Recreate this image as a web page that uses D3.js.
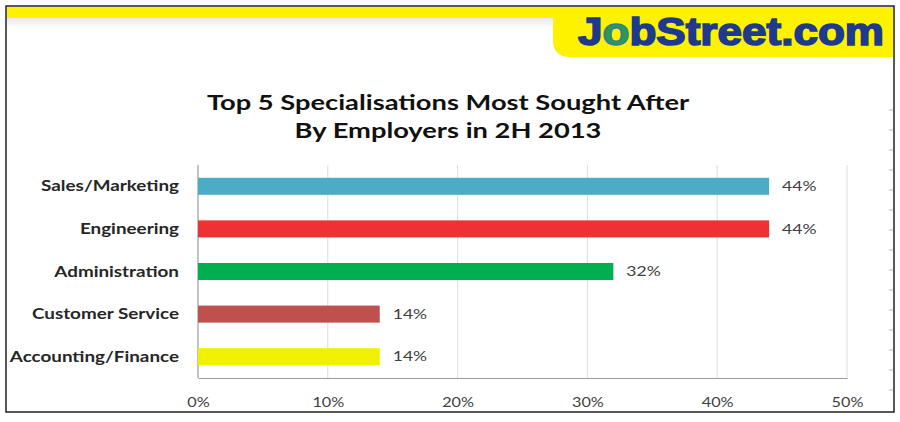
<!DOCTYPE html>
<html>
<head>
<meta charset="utf-8">
<script src="https://cdn.jsdelivr.net/npm/d3@7"></script>
<style>
  body { margin: 0; background: #fff; }
  svg { display: block; }
</style>
</head>
<body>
<svg id="chart" width="900" height="422"></svg>
<script>
// data
const categories = ['Sales/Marketing', 'Engineering', 'Administration', 'Customer Service', 'Accounting/Finance']
const values = [44, 44, 32, 14, 14]
const barColours = ['#4bacc6', '#f03131', '#00b050', '#c0504d', '#f0f000']
const xTicks = [0, 10, 20, 30, 40, 50]
const titleLines = ['Top 5 Specialisations Most Sought After', 'By Employers in 2H 2013']

const svg = d3.select('#chart')
const font = 'Lato, "Open Sans", sans-serif'
const stretch = 1.3 // the source picture is stretched sideways

// frame and the yellow band at the top
svg.append('rect')
  .attr('x', 6).attr('y', 6).attr('width', 888).attr('height', 406)
  .attr('fill', '#fff').attr('stroke', '#222').attr('stroke-width', 1.5)

const defs = svg.append('defs')
const shade = defs.append('linearGradient').attr('id', 'shade').attr('x1', 0).attr('x2', 0).attr('y1', 0).attr('y2', 1)
shade.append('stop').attr('offset', '0%').attr('stop-color', '#e8e8e8')
shade.append('stop').attr('offset', '100%').attr('stop-color', '#fff')
svg.append('rect').attr('x', 7).attr('y', 18).attr('width', 886).attr('height', 10).attr('fill', 'url(#shade)')

svg.append('rect')
  .attr('x', 7).attr('y', 7).attr('width', 886).attr('height', 11)
  .attr('fill', '#fff200')

// logo tab with a rounded lower-left corner
svg.append('path')
  .attr('d', 'M 553 7 L 893 7 L 893 57 L 570 57 Q 553 57 553 40 Z')
  .attr('fill', '#fff200')

const logo = svg.append('text')
  .attr('x', 578).attr('y', 45)
  .style('font-family', 'Arial, "Liberation Sans", sans-serif')
  .style('font-weight', 'bold')
  .style('font-size', '38px')
  .attr('fill', '#1d3a8f')
  .attr('stroke', '#1d3a8f')
  .attr('stroke-width', 1.6)
  .attr('textLength', 306)
  .attr('lengthAdjust', 'spacingAndGlyphs')
logo.append('tspan').text('J')
logo.append('tspan').attr('fill', '#2f9a4a').attr('stroke', '#2f7fa0').text('o')
logo.append('tspan').text('bStreet.com')

// small ticks on the right border
svg.append('g').selectAll('line')
  .data(d3.range(110, 410, 20))
  .enter()
  .append('line')
  .attr('x1', 889).attr('x2', 893)
  .attr('y1', (d) => d).attr('y2', (d) => d)
  .attr('stroke', '#bbb')

// title
svg.append('g').selectAll('text')
  .data(titleLines)
  .enter()
  .append('text')
  .attr('transform', (d, i) => `translate(448,${110 + i * 28}) scale(${stretch},1)`)
  .attr('text-anchor', 'middle')
  .style('font-family', font)
  .style('font-weight', 'bold')
  .style('font-size', '21px')
  .attr('fill', '#111')
  .text((d) => d)

// scales
const x = d3.scaleLinear().domain([0, 50]).range([198, 847])
const y = d3.scaleBand().domain(categories).range([165, 378]).paddingInner(0.6).paddingOuter(0.3)

// gridlines
svg.append('g').selectAll('line')
  .data(xTicks)
  .enter()
  .append('line')
  .attr('x1', (d) => x(d)).attr('x2', (d) => x(d))
  .attr('y1', 165).attr('y2', 378)
  .attr('stroke', '#dcdcdc')

// axes
svg.append('line')
  .attr('x1', 198).attr('x2', 198).attr('y1', 165).attr('y2', 378)
  .attr('stroke', '#9a9a9a')

const xAxis = svg.append('g')
  .attr('transform', 'translate(0,378)')
  .call(d3.axisBottom(x).tickValues(xTicks).tickSize(0).tickPadding(20).tickFormat((d) => d + '%'))
xAxis.select('.domain').attr('stroke', '#9a9a9a')
xAxis.selectAll('text')
  .attr('transform', `scale(${stretch},1)`)
  .style('font-family', font)
  .style('font-size', '12.5px')
  .attr('fill', '#404040')

// category labels
svg.append('g').selectAll('text')
  .data(categories)
  .enter()
  .append('text')
  .attr('transform', (d) => `translate(179,${y(d) + y.bandwidth() / 2}) scale(${stretch},1)`)
  .attr('dy', '0.35em')
  .attr('text-anchor', 'end')
  .style('font-family', font)
  .style('font-weight', 'bold')
  .style('font-size', '14.5px')
  .attr('fill', '#262626')
  .text((d) => d)

// bars
const rows = categories.map((c, i) => ({ name: c, value: values[i], colour: barColours[i] }))

svg.append('g').selectAll('rect')
  .data(rows)
  .enter()
  .append('rect')
  .attr('x', x(0))
  .attr('y', (d) => y(d.name))
  .attr('width', (d) => x(d.value) - x(0))
  .attr('height', y.bandwidth())
  .attr('fill', (d) => d.colour)

// value labels
svg.append('g').selectAll('text')
  .data(rows)
  .enter()
  .append('text')
  .attr('transform', (d) => `translate(${x(d.value) + 13},${y(d.name) + y.bandwidth() / 2}) scale(${stretch},1)`)
  .attr('dy', '0.35em')
  .style('font-family', font)
  .style('font-size', '13.5px')
  .attr('fill', '#404040')
  .text((d) => d.value + '%')
</script>
</body>
</html>
